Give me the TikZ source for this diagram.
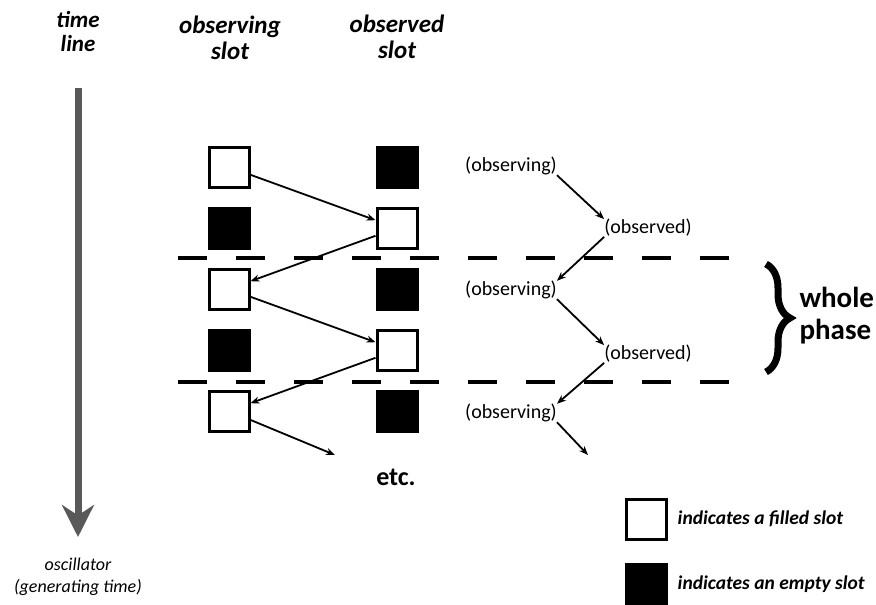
\documentclass[tikz,border=0pt]{standalone}
\usepackage{fontspec}
\setmainfont{Carlito}
\usetikzlibrary{arrows,arrows.meta,decorations.pathreplacing,positioning}

\begin{document}
\begin{tikzpicture}[x=1pt,y=-1pt,>={Stealth[length=9pt,width=7pt]},
        filled/.style={draw=black, line width=3pt, fill=white, minimum size=40pt, inner sep=0pt},
        empty/.style={draw=black, line width=3pt, fill=black, minimum size=40pt, inner sep=0pt},
        head/.style={font=\fontsize{25}{26}\selectfont\bfseries\itshape, align=center},
        role/.style={font=\fontsize{20}{22}\selectfont, inner sep=0pt},
        slotarrow/.style={->, line width=1.8pt},
        legend/.style={font=\fontsize{19.5}{21}\selectfont\bfseries\itshape, inner sep=0pt}]
            \useasboundingbox (0,0) rectangle (876,605);
            % headings
            \node[head, font=\fontsize{23}{24}\selectfont\bfseries\itshape] (tl) at (78,32) {time\\line};
            \node[head] (obsg) at (230,38) {observing\\slot};
            \node[head] (obsd) at (397,37) {observed\\slot};
            % the time line
            \coordinate (ttop) at (78,88);
            \coordinate (tbot) at (78,537);
            \draw[line width=7pt, black!65, -{Stealth[length=32pt,width=32pt]}] (ttop) -- (tbot);
            \node[font=\fontsize{18}{22}\selectfont\itshape, align=center] (osc) at (78,577) {oscillator\\(generating time)};
            % phase borders
            \foreach \y in {258,382}
                {
                \draw[line width=4.5pt, dash pattern=on 29pt off 29pt] (178,\y) -- (735,\y);
                }
            % slots
            \foreach \i/\l/\r in {1/filled/empty,2/empty/filled,3/filled/empty,4/empty/filled,5/filled/empty}
                {
                \node[\l] (L\i) at (229,106+61*\i) {};
                \node[\r] (R\i) at (397,106+61*\i) {};
                }
            \coordinate (etcend) at (335,455);
            \draw[slotarrow] (L1) -- (R2);
            \draw[slotarrow] (R2) -- (L3);
            \draw[slotarrow] (L3) -- (R4);
            \draw[slotarrow] (R4) -- (L5);
            \draw[slotarrow] (L5) -- (etcend);
            \node[font=\fontsize{26}{28}\selectfont\bfseries] (etc) at (396,477) {etc.};
            % roles
            \node[role] (o1) at (511,166) {(observing)};
            \node[role] (d1) at (648,228) {(observed)};
            \node[role] (o2) at (511,290) {(observing)};
            \node[role] (d2) at (648,354) {(observed)};
            \node[role] (o3) at (511,413) {(observing)};
            \coordinate (obsend) at (588,455);
            \draw[slotarrow] (o1.south east) -- (d1.north west);
            \draw[slotarrow] (d1.south west) -- (o2.north east);
            \draw[slotarrow] (o2.south east) -- (d2.north west);
            \draw[slotarrow] (d2.south west) -- (o3.north east);
            \draw[slotarrow] (o3.south east) -- (obsend);
            % whole phase
            \coordinate (btop) at (766,264);
            \coordinate (bbot) at (766,372);
            \draw[decorate, decoration={brace, amplitude=24pt}, line width=7pt] (btop) -- (bbot);
            \node[font=\fontsize{29}{32}\selectfont\bfseries, align=left, anchor=west] (whole) at (796,316) {whole\\phase};
            % legend
            \node[filled] (keyfilled) at (646,519) {};
            \node[empty] (keyempty) at (646,584) {};
            \node[legend, right=10pt of keyfilled] (keyfilledtext) {indicates a filled slot};
            \node[legend, right=10pt of keyempty] (keyemptytext) {indicates an empty slot};
        \end{tikzpicture}
\end{document}
